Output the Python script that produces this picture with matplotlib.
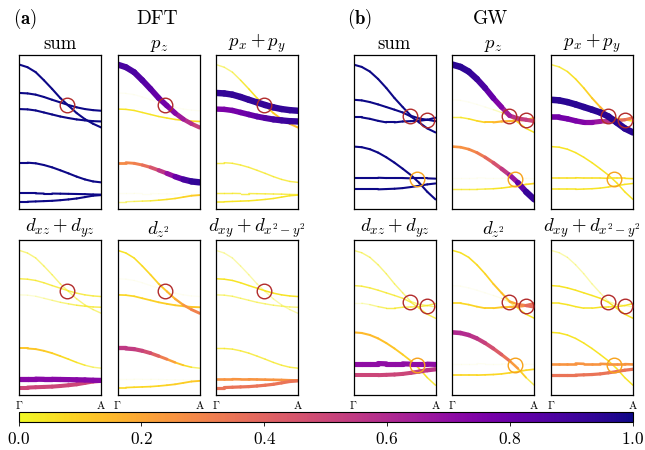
import numpy as np
import matplotlib
matplotlib.use("Agg")
import matplotlib.pyplot as plt
from matplotlib.collections import LineCollection
from matplotlib.colors import Normalize
from matplotlib.cm import ScalarMappable

plt.rcParams['font.family'] = 'serif'
plt.rcParams['font.serif'] = ['cmr10']
plt.rcParams['mathtext.fontset'] = 'cm'
plt.rcParams['axes.formatter.use_mathtext'] = True

# k path Gamma -> A
k = [0.0, 0.1, 0.2, 0.3, 0.4, 0.5, 0.6, 0.7, 0.8, 0.9, 1.0]

# ---------------- DFT ----------------
dft_E = [
    [0.935, 0.918, 0.886, 0.834, 0.778, 0.719, 0.670, 0.622, 0.583, 0.553, 0.529],
    [0.752, 0.749, 0.741, 0.726, 0.708, 0.691, 0.674, 0.659, 0.648, 0.641, 0.637],
    [0.648, 0.646, 0.639, 0.626, 0.613, 0.600, 0.590, 0.581, 0.575, 0.570, 0.568],
    [0.302, 0.302, 0.298, 0.287, 0.272, 0.253, 0.233, 0.212, 0.194, 0.181, 0.175],
    [0.104, 0.104, 0.104, 0.103, 0.103, 0.102, 0.101, 0.100, 0.099, 0.097, 0.096],
    [0.050, 0.050, 0.052, 0.054, 0.056, 0.060, 0.065, 0.071, 0.080, 0.089, 0.093],
]
dft_pz = [
    [0.88, 0.88, 0.87, 0.85, 0.83, 0.80, 0.76, 0.70, 0.62, 0.55, 0.50],
    [0.00, 0.00, 0.00, 0.00, 0.00, 0.00, 0.00, 0.00, 0.00, 0.00, 0.00],
    [0.05, 0.05, 0.05, 0.05, 0.05, 0.05, 0.05, 0.06, 0.07, 0.08, 0.08],
    [0.28, 0.28, 0.30, 0.33, 0.40, 0.50, 0.62, 0.75, 0.85, 0.92, 0.95],
    [0.00, 0.00, 0.00, 0.00, 0.00, 0.00, 0.00, 0.00, 0.00, 0.00, 0.00],
    [0.03, 0.03, 0.03, 0.04, 0.04, 0.05, 0.06, 0.07, 0.08, 0.10, 0.12],
]
dft_pxpy = [
    [0.03, 0.03, 0.03, 0.04, 0.05, 0.06, 0.08, 0.10, 0.13, 0.15, 0.15],
    [0.93, 0.93, 0.93, 0.93, 0.93, 0.93, 0.93, 0.93, 0.93, 0.93, 0.93],
    [0.75, 0.75, 0.76, 0.78, 0.80, 0.82, 0.85, 0.88, 0.90, 0.92, 0.93],
    [0.04, 0.04, 0.04, 0.04, 0.04, 0.04, 0.04, 0.04, 0.04, 0.04, 0.04],
    [0.04, 0.04, 0.04, 0.04, 0.04, 0.04, 0.04, 0.04, 0.04, 0.04, 0.04],
    [0.05, 0.05, 0.05, 0.05, 0.05, 0.05, 0.05, 0.05, 0.05, 0.05, 0.05],
]
dft_dxz = [
    [0.03, 0.03, 0.03, 0.03, 0.03, 0.03, 0.03, 0.03, 0.03, 0.03, 0.03],
    [0.04, 0.04, 0.04, 0.04, 0.04, 0.04, 0.04, 0.04, 0.04, 0.04, 0.04],
    [0.01, 0.01, 0.01, 0.02, 0.02, 0.03, 0.03, 0.04, 0.04, 0.04, 0.04],
    [0.12, 0.12, 0.12, 0.11, 0.10, 0.08, 0.06, 0.05, 0.04, 0.03, 0.03],
    [0.72, 0.72, 0.72, 0.72, 0.72, 0.72, 0.72, 0.72, 0.72, 0.72, 0.72],
    [0.50, 0.50, 0.50, 0.50, 0.50, 0.50, 0.50, 0.50, 0.50, 0.50, 0.50],
]
dft_dz2 = [
    [0.05, 0.05, 0.06, 0.07, 0.08, 0.10, 0.13, 0.17, 0.22, 0.28, 0.33],
    [0.00, 0.00, 0.00, 0.00, 0.00, 0.00, 0.00, 0.00, 0.00, 0.00, 0.00],
    [0.08, 0.08, 0.08, 0.09, 0.09, 0.10, 0.10, 0.11, 0.11, 0.12, 0.12],
    [0.55, 0.55, 0.53, 0.50, 0.45, 0.37, 0.27, 0.16, 0.08, 0.04, 0.03],
    [0.00, 0.00, 0.00, 0.00, 0.00, 0.00, 0.00, 0.00, 0.00, 0.00, 0.00],
    [0.08, 0.08, 0.08, 0.08, 0.08, 0.08, 0.09, 0.10, 0.10, 0.11, 0.12],
]
dft_dxy = [
    [0.02, 0.02, 0.02, 0.02, 0.02, 0.02, 0.02, 0.02, 0.02, 0.02, 0.02],
    [0.05, 0.05, 0.05, 0.05, 0.05, 0.05, 0.05, 0.05, 0.05, 0.05, 0.05],
    [0.03, 0.03, 0.03, 0.03, 0.03, 0.03, 0.03, 0.03, 0.03, 0.03, 0.03],
    [0.04, 0.04, 0.04, 0.04, 0.04, 0.04, 0.04, 0.04, 0.04, 0.04, 0.04],
    [0.25, 0.25, 0.25, 0.25, 0.25, 0.25, 0.25, 0.25, 0.25, 0.25, 0.25],
    [0.35, 0.35, 0.35, 0.35, 0.35, 0.35, 0.35, 0.35, 0.35, 0.35, 0.35],
]
dft_red_circles = [(0.58, 0.676)]
dft_orange_circles = []

# ---------------- GW ----------------
gw_E = [
    [0.935, 0.920, 0.890, 0.842, 0.784, 0.719, 0.661, 0.605, 0.587, 0.579, 0.570],
    [0.708, 0.704, 0.693, 0.678, 0.661, 0.644, 0.626, 0.600, 0.562, 0.523, 0.497],
    [0.594, 0.594, 0.585, 0.572, 0.562, 0.562, 0.568, 0.570, 0.572, 0.579, 0.592],
    [0.406, 0.402, 0.389, 0.367, 0.337, 0.302, 0.263, 0.222, 0.173, 0.114, 0.065],
    [0.205, 0.205, 0.205, 0.205, 0.203, 0.203, 0.203, 0.201, 0.201, 0.201, 0.199],
    [0.130, 0.130, 0.130, 0.130, 0.132, 0.134, 0.138, 0.145, 0.153, 0.162, 0.168],
]
gw_pz = [
    [0.95, 0.95, 0.93, 0.90, 0.85, 0.78, 0.70, 0.60, 0.55, 0.52, 0.50],
    [0.00, 0.00, 0.00, 0.00, 0.00, 0.01, 0.02, 0.04, 0.05, 0.05, 0.05],
    [0.04, 0.04, 0.05, 0.07, 0.10, 0.14, 0.18, 0.18, 0.14, 0.10, 0.10],
    [0.25, 0.25, 0.27, 0.30, 0.35, 0.42, 0.50, 0.60, 0.75, 0.90, 0.95],
    [0.00, 0.00, 0.00, 0.00, 0.00, 0.00, 0.00, 0.00, 0.00, 0.00, 0.00],
    [0.04, 0.04, 0.04, 0.04, 0.04, 0.05, 0.05, 0.06, 0.07, 0.08, 0.08],
]
gw_pxpy = [
    [0.04, 0.04, 0.05, 0.06, 0.08, 0.10, 0.14, 0.20, 0.10, 0.06, 0.05],
    [0.95, 0.95, 0.95, 0.95, 0.95, 0.95, 0.95, 0.95, 0.95, 0.95, 0.95],
    [0.78, 0.78, 0.77, 0.75, 0.73, 0.70, 0.65, 0.50, 0.40, 0.35, 0.30],
    [0.05, 0.05, 0.05, 0.05, 0.05, 0.05, 0.05, 0.05, 0.05, 0.05, 0.05],
    [0.06, 0.06, 0.06, 0.06, 0.06, 0.06, 0.06, 0.06, 0.06, 0.06, 0.06],
    [0.05, 0.05, 0.05, 0.05, 0.05, 0.05, 0.05, 0.05, 0.05, 0.05, 0.05],
]
gw_dxz = [
    [0.03, 0.03, 0.03, 0.03, 0.03, 0.03, 0.03, 0.03, 0.03, 0.03, 0.03],
    [0.04, 0.04, 0.04, 0.04, 0.04, 0.04, 0.04, 0.04, 0.04, 0.04, 0.04],
    [0.01, 0.01, 0.02, 0.03, 0.04, 0.04, 0.04, 0.04, 0.04, 0.04, 0.04],
    [0.15, 0.15, 0.15, 0.14, 0.13, 0.12, 0.10, 0.08, 0.06, 0.05, 0.04],
    [0.70, 0.70, 0.70, 0.70, 0.70, 0.70, 0.70, 0.70, 0.70, 0.70, 0.70],
    [0.50, 0.50, 0.50, 0.50, 0.50, 0.50, 0.50, 0.50, 0.52, 0.55, 0.58],
]
gw_dz2 = [
    [0.05, 0.05, 0.06, 0.07, 0.08, 0.10, 0.13, 0.15, 0.25, 0.35, 0.40],
    [0.00, 0.00, 0.00, 0.00, 0.00, 0.00, 0.01, 0.03, 0.04, 0.05, 0.05],
    [0.08, 0.08, 0.08, 0.09, 0.10, 0.10, 0.12, 0.15, 0.20, 0.30, 0.40],
    [0.60, 0.60, 0.58, 0.55, 0.50, 0.45, 0.40, 0.32, 0.15, 0.05, 0.03],
    [0.00, 0.00, 0.00, 0.00, 0.00, 0.00, 0.00, 0.00, 0.00, 0.00, 0.00],
    [0.08, 0.08, 0.08, 0.08, 0.08, 0.08, 0.08, 0.08, 0.08, 0.08, 0.08],
]
gw_dxy = [
    [0.02, 0.02, 0.02, 0.02, 0.02, 0.02, 0.02, 0.02, 0.02, 0.02, 0.02],
    [0.05, 0.05, 0.05, 0.05, 0.05, 0.05, 0.05, 0.05, 0.05, 0.05, 0.05],
    [0.05, 0.05, 0.05, 0.05, 0.05, 0.05, 0.05, 0.05, 0.05, 0.05, 0.05],
    [0.05, 0.05, 0.05, 0.05, 0.05, 0.05, 0.05, 0.05, 0.05, 0.05, 0.05],
    [0.25, 0.25, 0.25, 0.25, 0.25, 0.25, 0.25, 0.25, 0.25, 0.25, 0.25],
    [0.35, 0.35, 0.35, 0.35, 0.35, 0.35, 0.35, 0.35, 0.35, 0.35, 0.35],
]
gw_red_circles = [(0.69, 0.600), (0.90, 0.579)]
gw_orange_circles = [(0.77, 0.194)]

titles = ['sum', r'$p_z$', r'$p_x+p_y$',
          r'$d_{xz}+d_{yz}$', r'$d_{z^2}$', r'$d_{xy}+d_{x^2-y^2}$']

cmap = plt.get_cmap('plasma_r')


def draw_panel(ax, E, W, is_sum):
    segs, cols, lws, keys = [], [], [], []
    for b, band in enumerate(E):
        for i in range(len(k) - 1):
            if is_sum:
                wm = 1.0  # sum over all orbitals is the full weight
                rgba = cmap(wm)
                lw = 1.5
            else:
                wm = 0.5 * (W[b][i] + W[b][i + 1])
                rgba = list(cmap(min(wm, 1.0)))
                lw = 0.9 + 4.0 * wm
                rgba[3] = min(1.0, max(0.06, wm / 0.05))
            segs.append([(k[i], band[i]), (k[i + 1], band[i + 1])])
            cols.append(rgba)
            lws.append(lw)
            keys.append(wm)
    order = np.argsort(keys, kind='stable')
    lc = LineCollection([segs[j] for j in order], colors=[cols[j] for j in order],
                        linewidths=[lws[j] for j in order], capstyle='round',
                        joinstyle='round')
    ax.add_collection(lc)


def draw_circles(ax, red, orange):
    for (x, y) in red:
        ax.plot(x, y, 'o', ms=10.5, mfc='none', mec='#b22a2a', mew=1.0, zorder=5)
    for (x, y) in orange:
        ax.plot(x, y, 'o', ms=10.5, mfc='none', mec='#f7a21b', mew=1.0, zorder=5)


fig = plt.figure(figsize=(6.45, 4.5), dpi=100)

col_left = {'dft': [19.3, 117.7, 216.0], 'gw': [353.5, 452.3, 551.0]}
row_top = [54.5, 240.3]
pw, ph = 82.0, 155.0
W_px, H_px = 645.0, 450.0

sets = {
    'dft': (dft_E, [dft_pz, dft_pxpy, dft_dxz, dft_dz2, dft_dxy], dft_red_circles, dft_orange_circles),
    'gw': (gw_E, [gw_pz, gw_pxpy, gw_dxz, gw_dz2, gw_dxy], gw_red_circles, gw_orange_circles),
}

for key, (E, orbs, red, orange) in sets.items():
    weights = [None] + orbs
    for idx in range(6):
        r, c = divmod(idx, 3)
        left = col_left[key][c] / W_px
        bottom = 1 - (row_top[r] + ph) / H_px
        ax = fig.add_axes([left, bottom, pw / W_px, ph / H_px])
        draw_panel(ax, E, weights[idx], idx == 0)
        draw_circles(ax, red, orange)
        ax.set_xlim(0, 1)
        ax.set_ylim(0, 1)
        ax.set_yticks([])
        ax.set_xticks([0, 1])
        if r == 1:
            ax.set_xticklabels([r'$\Gamma$', r'$\mathrm{A}$'], fontsize=8)
        else:
            ax.set_xticklabels([])
        ax.tick_params(length=0, pad=3)
        for sp in ax.spines.values():
            sp.set_linewidth(0.9)
        ax.set_title(titles[idx], fontsize=13.5, pad=4)

fig.text(13 / W_px, 1 - 19 / H_px, r'($\mathbf{a}$)', fontsize=13.5, va='center')
fig.text(157 / W_px, 1 - 19 / H_px, 'DFT', fontsize=14, va='center', ha='center')
fig.text(347 / W_px, 1 - 19 / H_px, r'($\mathbf{b}$)', fontsize=13.5, va='center')
fig.text(491 / W_px, 1 - 19 / H_px, 'GW', fontsize=14, va='center', ha='center')

cax = fig.add_axes([18.5 / W_px, 1 - 421.7 / H_px, 614.5 / W_px, 9.4 / H_px])
sm = ScalarMappable(norm=Normalize(0, 1), cmap=cmap)
cb = fig.colorbar(sm, cax=cax, orientation='horizontal', ticks=[0, 0.2, 0.4, 0.6, 0.8, 1.0])
cb.ax.tick_params(labelsize=12.5, length=3, width=0.6)
cb.outline.set_linewidth(0.8)

fig.savefig('out.png', dpi=100)
